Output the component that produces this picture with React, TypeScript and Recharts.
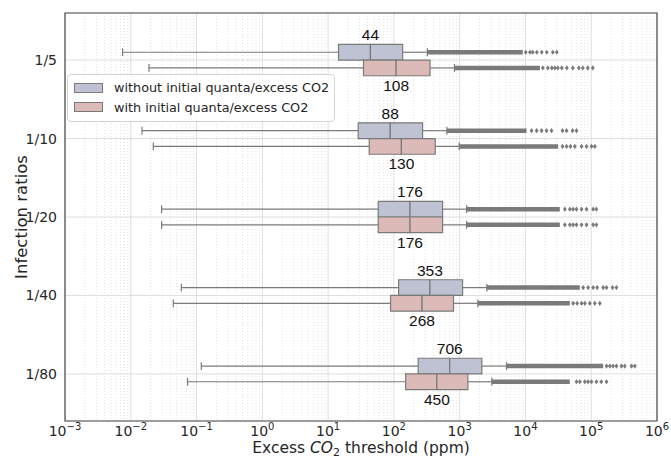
import {
  CartesianGrid,
  ComposedChart,
  Label,
  Legend,
  ReferenceArea,
  ReferenceLine,
  Scatter,
  XAxis,
  YAxis,
} from "recharts";

const RATIOS = ["1/5", "1/10", "1/20", "1/40", "1/80"];
const SERIES_NAMES = ["without initial quanta/excess CO2", "with initial quanta/excess CO2"];
const SERIES_FILLS = ["#bec2d3", "#dcbab8"];

// [lower whisker, q1, median, q3, upper whisker] per ratio
const WITHOUT_STATS = [
  [0.0075, 14.4, 44, 136, 322],
  [0.0148, 28.7, 88, 273, 639],
  [0.0294, 57.8, 176, 550, 1274],
  [0.0586, 118, 353, 1107, 2590],
  [0.118, 234, 706, 2175, 5160],
];
const WITH_STATS = [
  [0.0189, 34.5, 108, 354, 834],
  [0.022, 42.2, 130, 425, 984],
  [0.0294, 57.8, 176, 550, 1274],
  [0.0443, 89, 268, 807, 1892],
  [0.073, 151, 450, 1333, 3085],
];

// outliers are packed so tight they read as a solid band up to here
const WITHOUT_DENSE_END = [9100, 10400, 33300, 67100, 152000];
const WITH_DENSE_END = [16600, 31400, 33300, 47300, 47300];

// the loose outliers past the band
const WITHOUT_OUTLIERS = [
  [10100, 11700, 12900, 14900, 17700, 21100, 26100, 30000],
  [12400, 14800, 17600, 20900, 24900, 36600, 42200, 52000, 59800],
  [39700, 47300, 53100, 59800, 71300, 84900, 107000, 120000],
  [75300, 89700, 107000, 123000, 152000, 171000, 211000, 242000],
  [171000, 192000, 215000, 242000, 288000, 324000, 410000, 460000],
];
const WITH_OUTLIERS = [
  [18400, 21900, 25200, 28000, 31100, 35700, 42600, 52500, 64800, 74500, 88700, 105700],
  [36600, 42200, 48400, 56300, 71300, 84900, 101000, 113500],
  [39700, 47300, 53100, 59800, 71300, 84900, 107000, 120000],
  [53100, 61100, 71300, 80000, 95200, 113500, 135000],
  [59800, 67100, 80000, 89700, 101000, 120000, 142000, 171000],
];

const DECADES = [1e-3, 1e-2, 1e-1, 1, 10, 100, 1e3, 1e4, 1e5, 1e6];
const MINOR_TICKS: number[] = [];
DECADES.slice(0, -1).forEach((d) => {
  for (let k = 2; k <= 9; k++) MINOR_TICKS.push(d * k);
});

const X_DOMAIN = [1e-3, 1e6];
const Y_DOMAIN = [-0.6, 4.6];
const EDGE = "#7a7a7a";
const TEXT = "#262626";
const FONT = "DejaVu Sans";

// one row per box: gray sits just above the ratio line, pink just below
const rows = RATIOS.flatMap((_, i) => [
  {
    series: 0,
    center: i - 0.1,
    top: i - 0.2,
    bottom: i,
    stats: WITHOUT_STATS[i],
    denseEnd: WITHOUT_DENSE_END[i],
    outliers: WITHOUT_OUTLIERS[i],
  },
  {
    series: 1,
    center: i + 0.1,
    top: i,
    bottom: i + 0.2,
    stats: WITH_STATS[i],
    denseEnd: WITH_DENSE_END[i],
    outliers: WITH_OUTLIERS[i],
  },
]);

const outlierPoints = [0, 1].map((s) =>
  rows.filter((r) => r.series === s).flatMap((r) => r.outliers.map((x) => ({ x, y: r.center })))
);

const medianLabels = rows.map((r) => ({
  x: r.stats[2],
  y: r.series === 0 ? r.top : r.bottom,
  side: r.series === 0 ? "above" : "below",
}));

function Diamond(props: any) {
  const { cx, cy } = props;
  if (cx == null || cy == null) return null;
  return <path d={`M${cx},${cy - 2.6}L${cx + 1.9},${cy}L${cx},${cy + 2.6}L${cx - 1.9},${cy}Z`} fill={EDGE} />;
}

function MedianText(props: any) {
  const { cx, cy, payload } = props;
  if (cx == null || cy == null) return null;
  return (
    <text
      x={cx}
      y={payload.side === "above" ? cy - 4 : cy + 15}
      textAnchor="middle"
      fontSize={15.5}
      fontFamily="Liberation Sans"
      fill="#111"
    >
      {payload.x}
    </text>
  );
}

function PowerTick(props: any) {
  const { x, y, payload } = props;
  const exp = Math.round(Math.log10(payload.value));
  const sup = exp < 0 ? `\u2212${-exp}` : `${exp}`;
  return (
    <text x={x} y={y + 7} textAnchor="middle" fontSize={14} fontFamily={FONT} fill={TEXT}>
      10
      <tspan dy={-6} fontSize={10}>
        {sup}
      </tspan>
    </text>
  );
}

function XTitle(props: any) {
  const { x, width, y } = props.viewBox;
  return (
    <text x={x + width / 2} y={y + 32} textAnchor="middle" fontSize={15.5} fontFamily={FONT} fill={TEXT}>
      Excess <tspan fontStyle="italic">CO</tspan>
      <tspan dy={3} fontSize={11}>
        2
      </tspan>
      <tspan dy={-3}> threshold (ppm)</tspan>
    </text>
  );
}

function YTitle(props: any) {
  const { y, height } = props.viewBox;
  const cy = y + height / 2;
  return (
    <text
      x={27}
      y={cy}
      transform={`rotate(-90 27 ${cy})`}
      textAnchor="middle"
      fontSize={16.5}
      fontFamily={FONT}
      fill={TEXT}
    >
      Infection ratios
    </text>
  );
}

function LegendBox() {
  return (
    <div
      style={{
        border: "1px solid #d4d4d4",
        borderRadius: 4,
        background: "rgba(255,255,255,0.85)",
        padding: "3px 5px 4px 6px",
        fontFamily: FONT,
        fontSize: 12.8,
        color: TEXT,
        lineHeight: "19.5px",
      }}
    >
      {SERIES_NAMES.map((name, i) => (
        <div key={name} style={{ display: "flex", alignItems: "center", whiteSpace: "nowrap" }}>
          <span
            style={{
              display: "inline-block",
              width: 27,
              height: 8,
              background: SERIES_FILLS[i],
              border: `1px solid ${EDGE}`,
              marginRight: 11,
            }}
          />
          {name}
        </div>
      ))}
    </div>
  );
}

export default function App() {
  return (
    <div style={{ position: "absolute", left: 0, top: 0, background: "#fff" }}>
      <ComposedChart width={671} height={459} margin={{ top: 13, right: 14, bottom: 0, left: 0 }}>
        <CartesianGrid stroke="#dedede" />
        <CartesianGrid xAxisId="minor" horizontal={false} stroke="#e2e2e2" strokeDasharray="1 2" />
        <XAxis
          type="number"
          dataKey="x"
          scale="log"
          domain={X_DOMAIN}
          allowDataOverflow
          ticks={DECADES}
          interval={0}
          tick={<PowerTick />}
          tickLine={false}
          axisLine={false}
          height={38}
        >
          <Label content={<XTitle />} />
        </XAxis>
        <XAxis
          xAxisId="minor"
          type="number"
          dataKey="x"
          scale="log"
          domain={X_DOMAIN}
          allowDataOverflow
          ticks={MINOR_TICKS}
          interval={0}
          hide
        />
        <YAxis
          type="number"
          dataKey="y"
          domain={Y_DOMAIN}
          allowDataOverflow
          reversed
          ticks={[0, 1, 2, 3, 4]}
          interval={0}
          tickFormatter={(v: number) => RATIOS[v]}
          tick={{ fontSize: 14, fontFamily: FONT, fill: TEXT }}
          tickLine={false}
          axisLine={false}
          width={65}
        >
          <Label content={<YTitle />} />
        </YAxis>

        {rows.map((r, k) => {
          const [lo, q1, med, q3, hi] = r.stats;
          const fill = SERIES_FILLS[r.series];
          return [
            <ReferenceLine key={`wl${k}`} segment={[{ x: lo, y: r.center }, { x: q1, y: r.center }]} stroke={EDGE} strokeWidth={1.2} />,
            <ReferenceLine key={`wh${k}`} segment={[{ x: q3, y: r.center }, { x: hi, y: r.center }]} stroke={EDGE} strokeWidth={1.2} />,
            <ReferenceLine key={`cl${k}`} segment={[{ x: lo, y: r.center - 0.05 }, { x: lo, y: r.center + 0.05 }]} stroke={EDGE} strokeWidth={1.2} />,
            <ReferenceLine key={`ch${k}`} segment={[{ x: hi, y: r.center - 0.05 }, { x: hi, y: r.center + 0.05 }]} stroke={EDGE} strokeWidth={1.2} />,
            <ReferenceLine key={`band${k}`} segment={[{ x: hi, y: r.center }, { x: r.denseEnd, y: r.center }]} stroke={EDGE} strokeWidth={4.5} />,
            <ReferenceArea key={`b1${k}`} x1={q1} x2={med} y1={r.top} y2={r.bottom} fill={fill} fillOpacity={1} stroke={EDGE} strokeWidth={1.2} />,
            <ReferenceArea key={`b2${k}`} x1={med} x2={q3} y1={r.top} y2={r.bottom} fill={fill} fillOpacity={1} stroke={EDGE} strokeWidth={1.2} />,
          ];
        })}

        <ReferenceArea x1={X_DOMAIN[0]} x2={X_DOMAIN[1]} y1={Y_DOMAIN[0]} y2={Y_DOMAIN[1]} fill="none" stroke="#4a4a4a" strokeWidth={1.2} />

        <Scatter name={SERIES_NAMES[0]} data={outlierPoints[0]} shape={<Diamond />} isAnimationActive={false} />
        <Scatter name={SERIES_NAMES[1]} data={outlierPoints[1]} shape={<Diamond />} isAnimationActive={false} />
        <Scatter data={medianLabels} shape={<MedianText />} isAnimationActive={false} legendType="none" />

        <Legend
          layout="vertical"
          align="center"
          verticalAlign="middle"
          wrapperStyle={{ left: 67, top: 74, width: "auto", height: "auto" }}
          content={<LegendBox />}
        />
      </ComposedChart>
    </div>
  );
}
